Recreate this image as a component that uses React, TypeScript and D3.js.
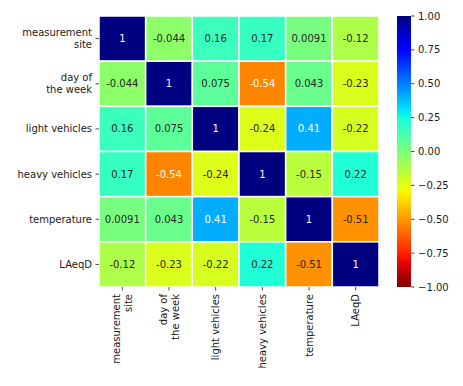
import React from 'react';
import * as d3 from 'd3';

const labels = ['measurement\nsite', 'day of\nthe week', 'light vehicles', 'heavy vehicles', 'temperature', 'LAeqD'];
const row0 = [1, -0.044, 0.16, 0.17, 0.0091, -0.12];
const row1 = [-0.044, 1, 0.075, -0.54, 0.043, -0.23];
const row2 = [0.16, 0.075, 1, -0.24, 0.41, -0.22];
const row3 = [0.17, -0.54, -0.24, 1, -0.15, 0.22];
const row4 = [0.0091, 0.043, 0.41, -0.15, 1, -0.51];
const row5 = [-0.12, -0.23, -0.22, 0.22, -0.51, 1];
const rows = [row0, row1, row2, row3, row4, row5];
const cbarTicks = [-1, -0.75, -0.5, -0.25, 0, 0.25, 0.5, 0.75, 1];

// matplotlib jet segments
const jetR = d3.scaleLinear<number>().domain([0, 0.35, 0.66, 0.89, 1]).range([0, 0, 1, 1, 0.5]);
const jetG = d3.scaleLinear<number>().domain([0, 0.125, 0.375, 0.64, 0.91, 1]).range([0, 0, 1, 1, 0, 0]);
const jetB = d3.scaleLinear<number>().domain([0, 0.11, 0.34, 0.65, 1]).range([0.5, 1, 1, 0, 0]);

const toT = d3.scaleLinear().domain([-1, 1]).range([1, 0]).clamp(true); // jet_r
const rgbOf = (v: number) => {
  const t = toT(v);
  return [jetR(t), jetG(t), jetB(t)];
};
const colorOf = (v: number) => {
  const [r, g, b] = rgbOf(v);
  return d3.rgb(r * 255, g * 255, b * 255).formatHex();
};
const textColor = (v: number) => {
  const lin = (c: number) => (c <= 0.03928 ? c / 12.92 : Math.pow((c + 0.055) / 1.055, 2.4));
  const [r, g, b] = rgbOf(v);
  const lum = 0.2126 * lin(r) + 0.7152 * lin(g) + 0.0722 * lin(b);
  return lum > 0.408 ? '#262626' : '#ffffff';
};

const fmt = (v: number) => (v === 1 ? '1' : String(v).replace('-', '-'));
const cfmt = (v: number) => d3.format('.2f')(v).replace('-', '\u2212');

const W = 463;
const H = 386;
const left = 99, right = 379, top = 16, bottom = 287;
const cbX = 397, cbW = 14;
const font = 'DejaVu Sans, sans-serif';
const ink = '#1a1a1a';

export default function App() {
  const idx = d3.range(labels.length).map(String);
  const x = d3.scaleBand().domain(idx).range([left, right]);
  const y = d3.scaleBand().domain(idx).range([top, bottom]);
  const cy = d3.scaleLinear().domain([-1, 1]).range([bottom, top]);
  const stops = d3.range(0, 1.0001, 1 / 64);

  return (
    <svg width={W} height={H} style={{ position: 'absolute', left: 0, top: 0 }} fontFamily={font}>
      <rect width={W} height={H} fill="#fff" />
      <defs>
        <linearGradient id="cb" x1="0" y1="1" x2="0" y2="0">
          {stops.map((s, i) => (
            <stop key={i} offset={s} stopColor={colorOf(-1 + 2 * s)} />
          ))}
        </linearGradient>
      </defs>
      {rows.map((row, i) =>
        row.map((v, j) => (
          <g key={`${i}-${j}`}>
            <rect
              x={x(String(j))!}
              y={y(String(i))!}
              width={x.bandwidth()}
              height={y.bandwidth()}
              fill={colorOf(v)}
              stroke="#fff"
              strokeWidth={1.5}
            />
            <text
              x={x(String(j))! + x.bandwidth() / 2}
              y={y(String(i))! + y.bandwidth() / 2}
              textAnchor="middle"
              dominantBaseline="central"
              fontSize={10}
              fill={textColor(v)}
            >
              {fmt(v)}
            </text>
          </g>
        ))
      )}
      {/* y axis */}
      {labels.map((l, i) => {
        const c = y(String(i))! + y.bandwidth() / 2;
        const lines = l.split('\n');
        return (
          <g key={`y${i}`}>
            <line x1={left - 3.5} x2={left} y1={c} y2={c} stroke={ink} strokeWidth={0.8} />
            {lines.map((ln, k) => (
              <text
                key={k}
                x={left - 7}
                y={c + (k - (lines.length - 1) / 2) * 12}
                textAnchor="end"
                dominantBaseline="central"
                fontSize={10}
                fill={ink}
              >
                {ln}
              </text>
            ))}
          </g>
        );
      })}
      {/* x axis */}
      {labels.map((l, j) => {
        const c = x(String(j))! + x.bandwidth() / 2;
        const lines = l.split('\n');
        return (
          <g key={`x${j}`}>
            <line x1={c} x2={c} y1={bottom} y2={bottom + 3.5} stroke={ink} strokeWidth={0.8} />
            {lines.map((ln, k) => (
              <text
                key={k}
                transform={`translate(${c + (k - (lines.length - 1) / 2) * 12},${bottom + 7}) rotate(-90)`}
                textAnchor="end"
                dominantBaseline="central"
                fontSize={10}
                fill={ink}
              >
                {ln}
              </text>
            ))}
          </g>
        );
      })}
      {/* colorbar */}
      <rect x={cbX} y={top} width={cbW} height={bottom - top} fill="url(#cb)" />
      {cbarTicks.map((t) => (
        <g key={`c${t}`}>
          <line x1={cbX + cbW} x2={cbX + cbW + 3.5} y1={cy(t)} y2={cy(t)} stroke={ink} strokeWidth={0.8} />
          <text x={cbX + cbW + 7} y={cy(t)} dominantBaseline="central" fontSize={10} fill={ink}>
            {cfmt(t)}
          </text>
        </g>
      ))}
    </svg>
  );
}
